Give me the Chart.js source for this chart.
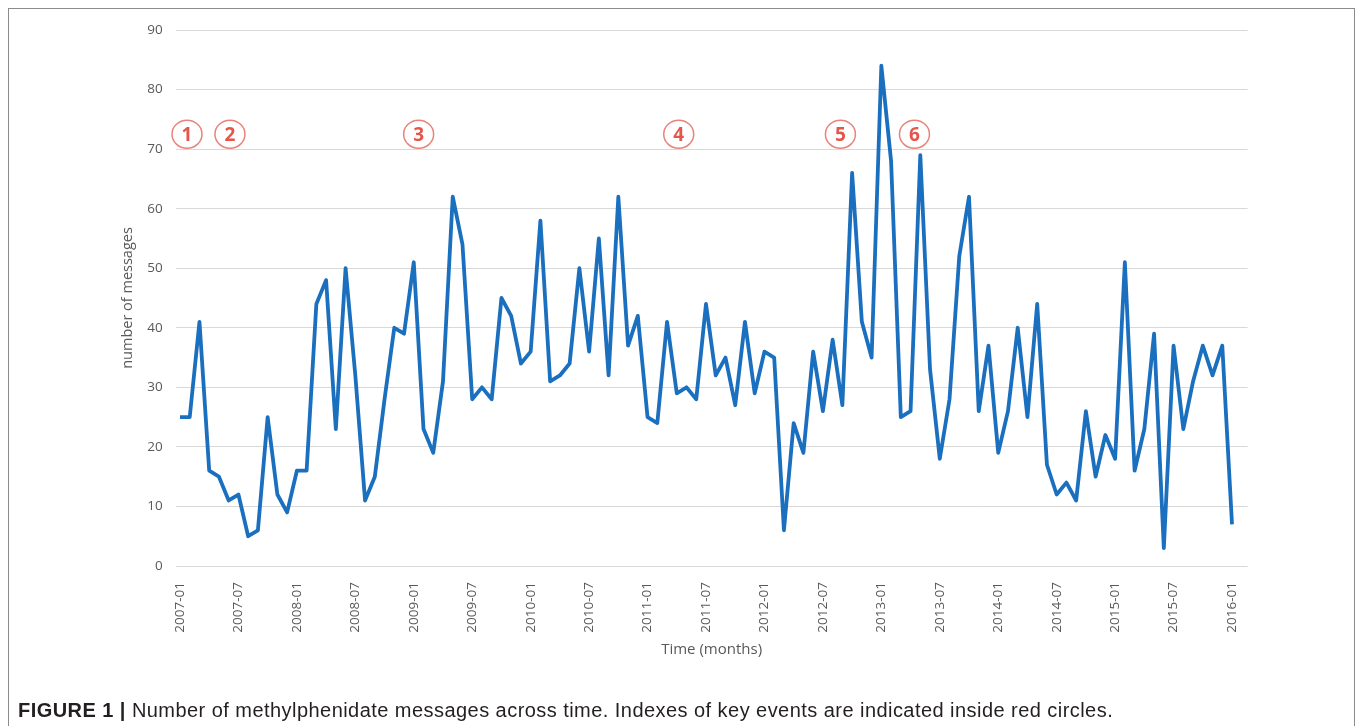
<!DOCTYPE html>
<html>
<head>
<meta charset="utf-8">
<script src="https://cdn.jsdelivr.net/npm/chart.js@4.4.0/dist/chart.umd.min.js"></script>
<style>
html,body{margin:0;padding:0;background:#fff;width:1360px;height:726px;overflow:hidden}
#frame{position:absolute;left:8px;top:8px;width:1347px;height:760px;border:1px solid #8c8c8c;box-sizing:border-box}
#wrap{position:absolute;left:0;top:0;width:1360px;height:700px}
#cap{position:absolute;left:18px;top:699px;font-family:"Liberation Sans Narrow","Liberation Sans",Arial,sans-serif;font-size:20px;letter-spacing:0.45px;color:#231f20;white-space:nowrap}
#cap b{font-weight:bold}
</style>
</head>
<body>
<div id="frame"></div>
<div id="wrap"><canvas id="c"></canvas></div>
<div id="cap"><b>FIGURE 1 |</b> Number of methylphenidate messages across time. Indexes of key events are indicated inside red circles.</div>
<script>
// ---- data ----
const months = [
'2007-01','2007-02','2007-03','2007-04','2007-05','2007-06','2007-07','2007-08','2007-09','2007-10','2007-11','2007-12',
'2008-01','2008-02','2008-03','2008-04','2008-05','2008-06','2008-07','2008-08','2008-09','2008-10','2008-11','2008-12',
'2009-01','2009-02','2009-03','2009-04','2009-05','2009-06','2009-07','2009-08','2009-09','2009-10','2009-11','2009-12',
'2010-01','2010-02','2010-03','2010-04','2010-05','2010-06','2010-07','2010-08','2010-09','2010-10','2010-11','2010-12',
'2011-01','2011-02','2011-03','2011-04','2011-05','2011-06','2011-07','2011-08','2011-09','2011-10','2011-11','2011-12',
'2012-01','2012-02','2012-03','2012-04','2012-05','2012-06','2012-07','2012-08','2012-09','2012-10','2012-11','2012-12',
'2013-01','2013-02','2013-03','2013-04','2013-05','2013-06','2013-07','2013-08','2013-09','2013-10','2013-11','2013-12',
'2014-01','2014-02','2014-03','2014-04','2014-05','2014-06','2014-07','2014-08','2014-09','2014-10','2014-11','2014-12',
'2015-01','2015-02','2015-03','2015-04','2015-05','2015-06','2015-07','2015-08','2015-09','2015-10','2015-11','2015-12',
'2016-01'
];
const messages = [
25,25,41,16,15,11,12,5,6,25,12,9,
16,16,44,48,23,50,32,11,15,28,40,39,
51,23,19,31,62,54,28,30,28,45,42,34,
36,58,31,32,34,50,36,55,32,62,37,42,
25,24,41,29,30,28,44,32,35,27,41,29,
36,35,6,24,19,36,26,38,27,66,41,35,
84,68,25,26,69,33,18,28,52,62,26,37,
19,26,40,25,44,17,12,14,11,26,15,22,
18,51,16,23,39,3,37,23,31,37,32,37,
7
];
const tickLabels = ['2007-01','2007-07','2008-01','2008-07','2009-01','2009-07','2010-01','2010-07',
'2011-01','2011-07','2012-01','2012-07','2013-01','2013-07','2014-01','2014-07','2015-01','2015-07','2016-01'];
const yTicks = [0,10,20,30,40,50,60,70,80,90];
// key events: index label, position in month units, value level
const eventLabels = ['1','2','3','4','5','6'];
const eventMonthPos = [0.72,5.13,24.5,51.2,67.8,75.4];
const eventLevel = 72.5;

// ---- chart ----
const eventPlugin = {
  id:'events',
  afterDatasetsDraw(chart){
    const {ctx, scales:{x,y}} = chart;
    ctx.save();
    eventLabels.forEach((lab,i)=>{
      const px = x.getPixelForValue(eventMonthPos[i]);
      const py = y.getPixelForValue(eventLevel);
      ctx.beginPath();
      ctx.ellipse(px, py, 15, 14, 0, 0, Math.PI*2);
      ctx.fillStyle = '#ffffff';
      ctx.fill();
      ctx.lineWidth = 1.5;
      ctx.strokeStyle = '#e9837a';
      ctx.stroke();
      ctx.fillStyle = '#e5564a';
      ctx.font = 'bold 19px "Open Sans", sans-serif';
      ctx.textAlign = 'center';
      ctx.textBaseline = 'middle';
      ctx.fillText(lab, px, py+1);
    });
    ctx.restore();
  }
};

new Chart(document.getElementById('c'), {
  type:'line',
  data:{
    datasets:[{
      data: messages.map((v,i)=>({x:i,y:v})),
      borderColor:'#1a6fbe',
      borderWidth:3.8,
      pointRadius:0,
      tension:0,
      borderJoinStyle:'round',
      fill:false
    }]
  },
  options:{
    responsive:true,
    maintainAspectRatio:false,
    animation:false,
    events:[],
    layout:{padding:{left:115.6,top:30,right:112.4,bottom:37.6}},
    plugins:{legend:{display:false},tooltip:{enabled:false}},
    scales:{
      x:{
        type:'linear',
        min:-0.45,
        max:109.6,
        grid:{display:false},
        border:{display:false},
        afterBuildTicks(s){ s.ticks = tickLabels.map(l=>({value:months.indexOf(l)})); },
        afterFit(s){ s.height = 96.4; },
        ticks:{
          autoSkip:false,
          minRotation:90,
          maxRotation:90,
          padding:8,
          color:'#595959',
          font:{family:'"Open Sans", sans-serif', size:13.5},
          callback:(v)=>months[v]
        },
        title:{display:true,text:'Time (months)',color:'#595959',font:{family:'"Open Sans", sans-serif',size:15}}
      },
      y:{
        min:0,max:90,
        afterBuildTicks(s){ s.ticks = yTicks.map(v=>({value:v})); },
        afterFit(s){ s.width = 60; },
        grid:{color:'#d9d9d9',lineWidth:1,drawTicks:false},
        border:{display:false},
        ticks:{
          padding:13,
          color:'#595959',
          font:{family:'"Open Sans", sans-serif', size:13.5}
        },
        title:{display:true,text:'number of messages',color:'#595959',font:{family:'"Open Sans", sans-serif',size:14.5}}
      }
    }
  },
  plugins:[eventPlugin]
});
</script>
</body>
</html>
